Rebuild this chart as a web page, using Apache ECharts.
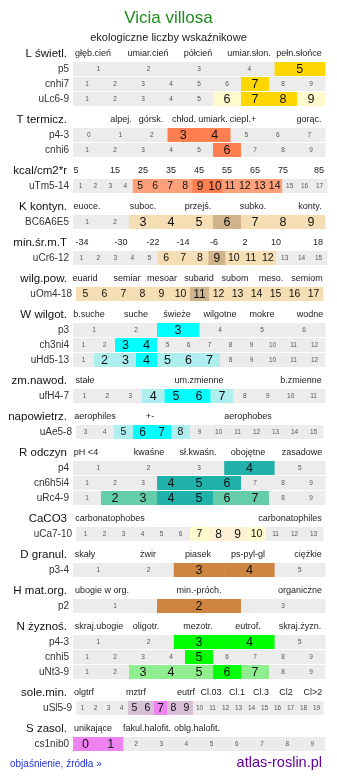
<!DOCTYPE html>
<html>
<head>
<meta charset="utf-8">
<script src="https://cdn.jsdelivr.net/npm/echarts@6/dist/echarts.min.js"></script>
<style>
  html, body { margin: 0; padding: 0; background: #fff; }
  #chart { width: 337px; height: 781px; }
</style>
</head>
<body>
<div id="chart"></div>
<script>
// --- data ---
const sectionTitles = ['L świetl.', 'T termicz.', 'kcal/cm2*r', 'K kontyn.', 'min.śr.m.T', 'wilg.pow.',
  'W wilgot.', 'zm.nawod.', 'napowietrz.', 'R odczyn', 'CaCO3', 'D granul.', 'H mat.org.',
  'N żyznoś.', 'sole.min.', 'S zasol.']
const sectionRowCount = [3, 2, 1, 1, 1, 1, 3, 1, 1, 3, 1, 1, 1, 3, 1, 1]
const sectionLabels = [
  ['głęb.cień', 'umiar.cień', 'półcień', 'umiar.słon.', 'pełn.słońce'],
  ['alpej.', 'górsk.', 'chłod.', 'umiark.', 'ciepl.+', 'gorąc.'],
  ['5', '15', '25', '35', '45', '55', '65', '75', '85'],
  ['euoce.', 'suboc.', 'przejś.', 'subko.', 'konty.'],
  ['-34', '-30', '-22', '-14', '-6', '2', '10', '18'],
  ['euarid', 'semiar', 'mesoar', 'subarid', 'subom', 'meso.', 'semiom'],
  ['b.suche', 'suche', 'świeże', 'wilgotne', 'mokre', 'wodne'],
  ['stałe', 'um.zmienne', 'b.zmienne'],
  ['aerophiles', '+-', 'aerophobes'],
  ['pH <4', 'kwaśne', 'sł.kwaśn.', 'obojętne', 'zasadowe'],
  ['carbonatophobes', 'carbonatophiles'],
  ['skały', 'żwir', 'piasek', 'ps-pyl-gl', 'ciężkie'],
  ['ubogie w org.', 'min.-próch.', 'organiczne'],
  ['skraj.ubogie', 'oligotr.', 'mezotr.', 'eutrof.', 'skraj.żyzn.'],
  ['olgtrf', 'mztrf', 'eutrf', 'Cl.03', 'Cl.1', 'Cl.3', 'Cl2', 'Cl>2'],
  ['unikające', 'fakul.halofit.', 'oblg.halofit.']
]

const rowNames = ['p5', 'cnhi7', 'uLc6-9', 'p4-3', 'cnhi6', 'uTm5-14', 'BC6A6E5', 'uCr6-12', 'uOm4-18',
  'p3', 'ch3ni4', 'uHd5-13', 'ufH4-7', 'uAe5-8', 'p4', 'cn6h5i4', 'uRc4-9', 'uCa7-10', 'p3-4', 'p2',
  'p4-3', 'cnhi5', 'uNt3-9', 'uSl5-9', 'cs1nib0']
const rowFirst = [1, 1, 1, 0, 1, 1, 1, 1, 5, 1, 1, 1, 1, 3, 1, 1, 1, 1, 1, 1, 1, 1, 1, 1, 0]
const rowLast = [5, 9, 9, 7, 9, 17, 9, 15, 17, 6, 12, 12, 11, 15, 5, 9, 9, 13, 5, 3, 5, 9, 9, 19, 9]
const rowStrong = [[5], [7], [7, 8], [3, 4], [6], [9, 10], [6], [9], [11], [3], [3, 4], [4], [5, 6],
  [6, 7], [4], [4, 5, 6], [4, 5], [8, 9], [3, 4], [2], [3, 4], [5], [6], [7], [0, 1]]
const rowLight = [[], [], [6, 9], [], [], [5, 6, 7, 8, 11, 12, 13, 14], [3, 4, 5, 7, 8, 9],
  [6, 7, 8, 10, 11, 12], [5, 6, 7, 8, 9, 10, 12, 13, 14, 15, 16, 17], [], [], [2, 3, 5, 6, 7], [4, 7],
  [5, 8], [], [], [2, 3, 6, 7], [7, 10], [], [], [], [], [3, 4, 5, 7], [5, 6, 8, 9], []]

// --- layout / style ---
const sectionColors = [
  ['#ffd700', '#fffacd'], ['#ff7f50', '#ffa07a'], ['#ff7f50', '#ffa07a'], ['#d2b48c', '#f5deb3'],
  ['#d2b48c', '#f5deb3'], ['#d2b48c', '#f5deb3'], ['#00ffff', '#afeeee'], ['#00ffff', '#afeeee'],
  ['#00ffff', '#afeeee'], ['#20b2aa', '#66cdaa'], ['#ffefd5', '#fffacd'], ['#cd853f', '#deb887'],
  ['#cd853f', '#deb887'], ['#00ff00', '#90ee90'], ['#ee82ee', '#d8bfd8'], ['#ee82ee', '#d8bfd8']
]
const sectionLabelX = [
  [93, 148, 198, 249, 299],
  [121, 151, 184, 213, 243, 309],
  [76, 115, 143, 171, 199, 227, 255, 283, 319],
  [87, 143, 198, 253, 310],
  [82, 121, 153, 183, 214, 245, 276, 318],
  [85, 127, 162, 199, 235, 271, 307],
  [89, 136, 177, 220, 262, 310],
  [85, 199, 301],
  [95, 150, 248],
  [86, 149, 198, 248, 302],
  [110, 290],
  [85, 148, 198, 248, 308],
  [102, 199, 300],
  [99, 146, 198, 248, 300],
  [84, 136, 186, 211, 237, 261, 286, 313],
  [93, 147, 197]
]
// row extents: [left, width]
const rowExtent = {
  'uTm5-14': [73, 254], 'uCr6-12': [73, 254],
  'uOm4-18': [76, 247], 'uAe5-8': [76, 247], 'uCa7-10': [76, 247], 'uSl5-9': [76, 247]
}
const GREY = '#ececec'
const FONT = 'Liberation Sans, Arial, sans-serif'

const chart = echarts.init(document.getElementById('chart'))

const grids = [], xAxes = [], yAxes = [], series = [], graphics = []
let y = 54
let row = 0
sectionTitles.forEach(function (title, s) {
  graphics.push({
    type: 'text', x: 67, y: y,
    style: { text: title, font: '11.5px ' + FONT, fill: '#111', textAlign: 'right', textVerticalAlign: 'middle' }
  })
  sectionLabels[s].forEach(function (lab, j) {
    graphics.push({
      type: 'text', x: sectionLabelX[s][j], y: y,
      style: { text: lab, font: '9px ' + FONT, fill: '#222', textAlign: 'center', textVerticalAlign: 'middle' }
    })
  })
  y += 15
  for (let r = 0; r < sectionRowCount[s]; r++) {
    const name = rowNames[row]
    const ext = rowExtent[name] || [73, 252]
    const n = rowLast[row] - rowFirst[row] + 1
    const cells = []
    for (let i = 0; i < n; i++) {
      const v = rowFirst[row] + i
      const level = rowStrong[row].indexOf(v) >= 0 ? 2 : (rowLight[row].indexOf(v) >= 0 ? 1 : 0)
      cells.push([i, 0, v, level])
    }
    grids.push({ left: ext[0], width: ext[1], top: y - 7, height: 14 })
    xAxes.push({ gridIndex: row, type: 'value', min: 0, max: n, show: false })
    yAxes.push({
      gridIndex: row, type: 'category', data: [name],
      axisLine: { show: false }, axisTick: { show: false },
      axisLabel: { margin: 4, fontSize: 10, fontFamily: FONT, color: '#333' }
    })
    const colors = sectionColors[s]
    const dense = n >= 13
    series.push({
      type: 'custom', xAxisIndex: row, yAxisIndex: row, data: cells,
      encode: { x: 0, y: 1 },
      renderItem: function (params, api) {
        const i = api.value(0)
        const p0 = api.coord([i, 0])
        const p1 = api.coord([i + 1, 0])
        const h = api.size([0, 1])[1]
        const level = api.value(3)
        const fill = level === 2 ? colors[0] : (level === 1 ? colors[1] : GREY)
        let size = 6.5, col = '#555'
        if (level > 0) {
          col = '#111'
          size = dense ? (level === 2 ? 12 : 10.5) : 12.5
        }
        return {
          type: 'group',
          children: [
            { type: 'rect', shape: { x: p0[0], y: p0[1] - h / 2, width: p1[0] - p0[0] + 0.5, height: h }, style: { fill: fill } },
            {
              type: 'text',
              style: {
                text: String(api.value(2)), x: (p0[0] + p1[0]) / 2, y: p0[1] + 0.5,
                font: size + 'px ' + FONT, fill: col, textAlign: 'center', textVerticalAlign: 'middle'
              }
            }
          ]
        }
      }
    })
    y += 15
    row++
  }
  y += 6
})

graphics.push({
  type: 'text', x: 10, y: 764,
  style: { text: 'objaśnienie, źródła »', font: '10px ' + FONT, fill: '#2233dd', textAlign: 'left', textVerticalAlign: 'middle' }
})
graphics.push({
  type: 'text', x: 322, y: 763,
  style: { text: 'atlas-roslin.pl', font: '14.5px ' + FONT, fill: '#660099', textAlign: 'right', textVerticalAlign: 'middle' }
})

const option = {
  animation: false,
  title: [
    { text: 'Vicia villosa', left: 'center', top: 10, padding: 0, textStyle: { fontSize: 17, fontWeight: 'normal', color: '#1e8a1e', fontFamily: FONT } },
    { text: 'ekologiczne liczby wskaźnikowe', left: 'center', top: 32, padding: 0, textStyle: { fontSize: 11, fontWeight: 'normal', color: '#222', fontFamily: FONT } }
  ],
  grid: grids,
  xAxis: xAxes,
  yAxis: yAxes,
  series: series,
  graphic: graphics
}

option && chart.setOption(option)
</script>
</body>
</html>
